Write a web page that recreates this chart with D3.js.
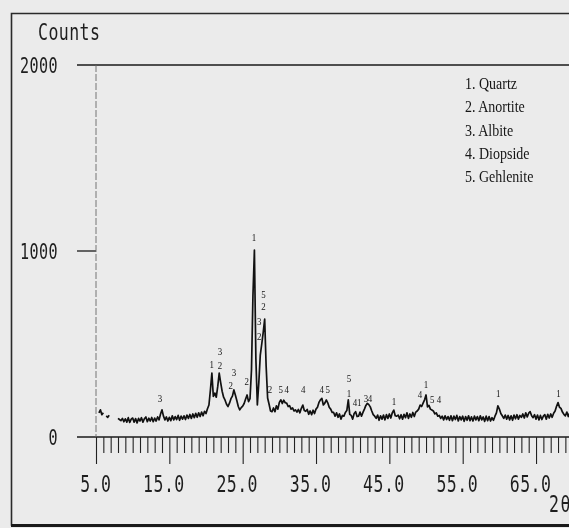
<!DOCTYPE html>
<html>
<head>
<meta charset="utf-8">
<script src="https://cdn.jsdelivr.net/npm/d3@7"></script>
<style>
	html, body { margin: 0; padding: 0; background: #ebebeb; }
	svg { display: block; will-change: transform; }
	.plotter { font-family: "DejaVu Sans Mono", "Liberation Mono", monospace; fill: #1e1e1e; }
	.serif { font-family: "Liberation Serif", "Times New Roman", serif; fill: #161616; }
</style>
</head>
<body>
<svg id="chart" width="569" height="528"></svg>
<script>
//scan parameters (2theta start / step) and recorded intensities, null = no trace
var twoThetaStart = 5.0;
var twoThetaStep = 0.2;
var counts = [
	null,null,130,146,120,130,null,114,106,117,   // 5.0
	null,null,null,null,null,100,94,88,100,82,     // 7.0
	98,80,104,78,96,102,80,99,76,100,              // 9.0
	86,104,80,98,108,82,101,86,105,82,             // 11.0
	102,86,108,92,124,146,112,92,108,86,           // 13.0
	106,88,114,92,110,94,116,90,112,96,            // 15.0
	114,94,118,100,121,100,124,104,127,106,        // 17.0
	130,110,134,114,138,126,152,172,252,344,       // 19.0
	218,236,214,272,344,292,246,214,198,176,       // 21.0
	164,182,206,220,253,226,196,164,146,158,       // 23.0
	166,180,204,226,190,206,360,760,1005,420,      // 25.0
	172,292,440,500,562,634,380,210,176,140,       // 27.0
	136,156,136,168,150,186,200,180,198,184,       // 29.0
	182,164,168,150,156,140,146,134,148,130,       // 31.0
	154,172,142,138,148,122,140,120,144,126,       // 33.0
	150,160,186,200,208,172,182,199,184,160,       // 35.0
	150,132,132,112,130,106,124,96,116,112,        // 37.0
	132,142,200,122,116,96,126,136,110,112,        // 39.0
	134,112,132,150,170,181,174,162,140,120,       // 41.0
	112,100,118,90,114,96,118,92,120,100,          // 43.0
	124,102,130,145,114,112,118,98,120,96,         // 45.0
	122,104,130,100,124,106,132,110,134,140,       // 47.0
	150,172,164,182,200,226,162,170,150,145,       // 49.0
	140,124,130,112,116,100,112,92,114,94,         // 51.0
	110,90,114,88,112,94,116,86,110,92,            // 53.0
	112,84,110,90,114,88,108,86,112,92,            // 55.0
	110,88,114,92,108,84,112,88,110,86,            // 57.0
	104,90,112,130,168,150,126,114,100,118,        // 59.0
	96,116,92,114,90,118,98,120,96,116,            // 61.0
	106,124,102,130,108,128,136,114,104,120,       // 63.0
	96,118,92,116,94,112,120,96,122,102,           // 65.0
	124,106,128,140,165,185,160,154,134,122,       // 67.0
	114,134,110,130,116,132                        // 69.0
];

//axis ticks
var yTickValues = [0, 1000, 2000];
var yTickLabels = ["0", "1000", "2000"];
var xMajorTicks = [5, 15, 25, 35, 45, 55, 65];
var xMajorLabels = ["5.0", "15.0", "25.0", "35.0", "45.0", "55.0", "65.0"];

//phase legend
var phaseNames = ["1. Quartz", "2. Anortite", "3. Albite", "4. Diopside", "5. Gehlenite"];

//peak annotations (phase number, 2theta, counts level of the digit)
var peakLabelText  = ["3","1","3","2","3","2","2","1","5","2","3","2","2","5","4","4","4","5","5","1","4","1","3","4","1","4","1","5","4","1","1"];
var peakLabelTheta = [13.73,20.78,21.91,21.91,23.82,23.37,25.55,26.55,27.82,27.82,27.27,27.27,28.73,30.19,31.0,33.27,35.78,36.6,39.5,39.5,40.32,40.9,41.82,42.37,45.64,49.18,50.0,50.86,51.77,59.86,68.05];
var peakLabelCount = [208,390,462,382,349,277,301,1075,764,700,622,541,258,258,258,258,258,258,314,234,184,184,208,208,190,226,280,203,203,235,235];

var svg = d3.select("#chart");

//scales
var x = d3.scaleLinear().domain([5, 70]).range([96, 572.7]);
var y = d3.scaleLinear().domain([0, 2000]).range([437, 65]);

var axisLeft = 77;
var rightEdge = 569;
var charW = 10.5;

//outer frame
svg.append("path")
	.attr("d", "M580,13.5 H11.5 V525 H580")
	.attr("fill", "none").attr("stroke", "#2a2a2a").attr("stroke-width", 1.6);
svg.append("line")
	.attr("x1", 11).attr("x2", rightEdge).attr("y1", 525.5).attr("y2", 525.5)
	.attr("stroke", "#1a1a1a").attr("stroke-width", 3);

//"Counts" title
svg.append("text").attr("class", "plotter")
	.attr("transform", "translate(38,40) scale(0.72,1)")
	.attr("font-size", 23).attr("letter-spacing", 0.6)
	.text("Counts");

//top and bottom horizontal lines, short tick at 1000
yTickValues.forEach(function(v) {
	var yy = y(v);
	svg.append("line")
		.attr("x1", axisLeft).attr("x2", (v == 1000) ? x(5) : rightEdge)
		.attr("y1", yy).attr("y2", yy)
		.attr("stroke", "#1a1a1a").attr("stroke-width", (v == 1000) ? 1.3 : 1.6);
});

//dashed vertical axis
svg.append("line")
	.attr("x1", x(5)).attr("x2", x(5))
	.attr("y1", y(2000)).attr("y2", y(0))
	.attr("stroke", "#666").attr("stroke-width", 0.9)
	.attr("stroke-dasharray", "7,2");

//y labels
svg.selectAll(".ylab").data(yTickValues).enter().append("text")
	.attr("class", "plotter ylab")
	.attr("transform", function(d) { return "translate(58," + (y(d) + 8) + ") scale(0.72,1)"; })
	.attr("font-size", 21)
	.attr("text-anchor", "end")
	.attr("letter-spacing", 0.6)
	.text(function(d, i) { return yTickLabels[i]; });

//x axis ticks through d3 axis
var xAxis = d3.axisBottom(x)
	.tickValues(d3.range(5, 70, 1))
	.tickSize(16)
	.tickFormat("");
var gx = svg.append("g").attr("transform", "translate(0," + y(0) + ")").call(xAxis);
gx.select(".domain").remove();
gx.selectAll(".tick line")
	.attr("stroke", "#222").attr("stroke-width", 1.1)
	.attr("y2", function(d) { return (xMajorTicks.indexOf(d) >= 0) ? 27 : 16; });

//x labels, decimal point sits on the tick
svg.selectAll(".xlab").data(xMajorTicks).enter().append("text")
	.attr("class", "plotter xlab")
	.attr("transform", function(d, i) {
		var off = (xMajorLabels[i].indexOf(".") + 0.5) * charW;
		return "translate(" + (x(d) - off) + ",492) scale(0.72,1)";
	})
	.attr("font-size", 23)
	.attr("letter-spacing", 0.6)
	.text(function(d, i) { return xMajorLabels[i]; });

//axis name, runs off the right edge as in the scan
svg.append("text").attr("class", "plotter")
	.attr("transform", "translate(549,512) scale(0.72,1)")
	.attr("font-size", 23).attr("letter-spacing", 2)
	.text("2θ");

//diffraction trace
var line = d3.line()
	.defined(function(d) { return d != null; })
	.x(function(d, i) { return x(twoThetaStart + i * twoThetaStep); })
	.y(function(d) { return y(d); });

svg.append("path")
	.datum(counts)
	.attr("d", line)
	.attr("fill", "none")
	.attr("stroke", "#111")
	.attr("stroke-width", 1.7)
	.attr("stroke-linejoin", "round");

//peak annotations
svg.selectAll(".peak").data(peakLabelText).enter().append("text")
	.attr("class", "serif peak")
	.attr("transform", function(d, i) {
		return "translate(" + x(peakLabelTheta[i]) + "," + (y(peakLabelCount[i]) + 3.5) + ") scale(0.85,1)";
	})
	.attr("font-size", 10.5)
	.attr("text-anchor", "middle")
	.text(function(d) { return d; });

//legend
svg.selectAll(".legend").data(phaseNames).enter().append("text")
	.attr("class", "serif legend")
	.attr("transform", function(d, i) { return "translate(465," + (89 + i * 23.3) + ") scale(0.8,1)"; })
	.attr("font-size", 17.5)
	.text(function(d) { return d; });
</script>
</body>
</html>
